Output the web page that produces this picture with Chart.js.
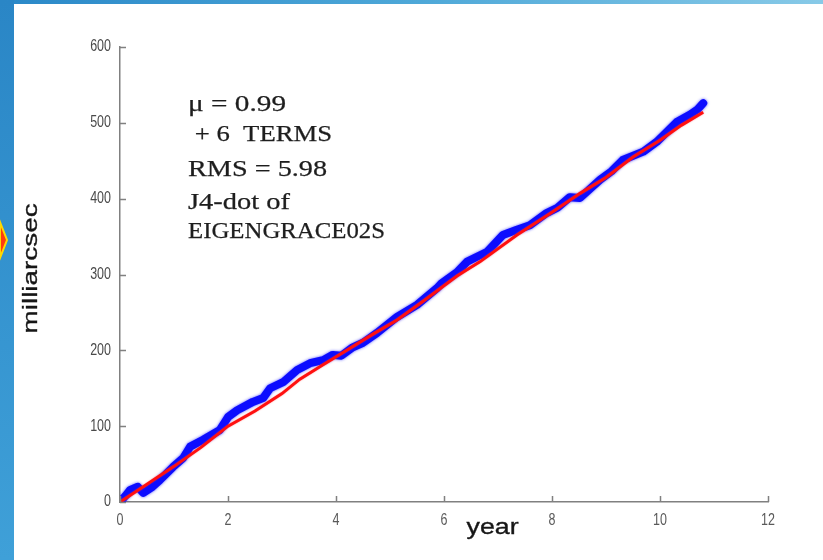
<!DOCTYPE html>
<html>
<head>
<meta charset="utf-8">
<script src="https://cdn.jsdelivr.net/npm/chart.js@4.4.1/dist/chart.umd.min.js"></script>
<style>
  html, body { margin: 0; padding: 0; background: #ffffff; }
  #wrap { width: 823px; height: 560px; position: relative; }
</style>
</head>
<body>
<div id="wrap"><canvas id="c" width="823" height="560"></canvas></div>
<script>
// ---- data ----
const observedYears  = [0, 0.1, 0.19, 0.33, 0.43, 0.6, 0.74, 0.98, 1.17, 1.3, 1.54, 1.85, 2.0, 2.17, 2.46, 2.65, 2.78, 3.02, 3.28, 3.52, 3.76, 3.94, 4.1, 4.31, 4.5, 4.76, 5.13, 5.5, 5.87, 5.95, 6.24, 6.43, 6.8, 7.09, 7.35, 7.59, 7.9, 8.1, 8.33, 8.52, 8.89, 9.1, 9.31, 9.69, 9.94, 10.31, 10.56, 10.7, 10.8];
const observedValues = [0, 8, 16, 20, 12, 20, 29, 46, 58, 73, 82, 95, 112, 121, 132, 137, 150, 158, 174, 183, 187, 194, 193, 204, 210, 223, 244, 260, 282, 288, 303, 317, 330, 352, 359, 365, 381, 388, 402, 401, 425, 436, 451, 462, 475, 501, 511, 518, 526];
const fitYears  = [0, 0.43, 1.0, 1.5, 2.0, 2.5, 3.0, 3.33, 3.76, 4.2, 4.7, 5.13, 5.6, 6.24, 6.67, 7.35, 8.0, 8.52, 9.0, 9.5, 10.0, 10.4, 10.8];
const fitValues = [0, 20, 47, 72, 100, 120, 143, 162, 181, 200, 222, 240, 264, 298, 317, 352, 382, 407, 428, 455, 477, 497, 514];
const xTicks = [0, 2, 4, 6, 8, 10, 12];
const yTicks = [0, 100, 200, 300, 400, 500, 600];
const annotationLines = ["\u03BC = 0.99", " + 6  TERMS", "RMS = 5.98", "J4-dot of", "EIGENGRACE02S"];
const yTitle = "milliarcsec";
const xTitle = "year";

const toPoints = (xs, ys) => xs.map((x, i) => ({ x: x, y: ys[i] }));

function drawStretched(ctx, text, x, y, font, sx, color, align, strokeW) {
  ctx.save();
  ctx.font = font;
  ctx.translate(x, y);
  ctx.scale(sx, 1);
  ctx.fillStyle = color;
  ctx.textBaseline = 'middle';
  ctx.textAlign = align || 'left';
  ctx.fillText(text, 0, 0);
  if (strokeW) {
    ctx.strokeStyle = color;
    ctx.lineWidth = strokeW;
    ctx.strokeText(text, 0, 0);
  }
  ctx.restore();
}
function drawToWidth(ctx, text, x, y, font, targetW, color, align, strokeW) {
  ctx.font = font;
  const w = ctx.measureText(text).width;
  drawStretched(ctx, text, x, y, font, targetW / w, color, align, strokeW);
}

const decorPlugin = {
  id: 'decor',
  beforeDraw(chart) {
    const ctx = chart.ctx;
    const W = chart.width, H = chart.height;
    ctx.save();
    const g = ctx.createLinearGradient(0, 0, W, 120);
    g.addColorStop(0, '#2a88c8');
    g.addColorStop(0.5, '#4ea8d8');
    g.addColorStop(1, '#8acbe8');
    ctx.fillStyle = g;
    ctx.fillRect(0, 0, W, H);
    const g2 = ctx.createLinearGradient(0, 0, 0, H);
    g2.addColorStop(0, '#2a86c6');
    g2.addColorStop(1, '#3fa0d8');
    ctx.fillStyle = g2;
    ctx.fillRect(0, 0, 14, H);
    ctx.fillStyle = '#ffffff';
    ctx.fillRect(14, 4, W - 14, H - 4);
    // chevron tip on the left edge
    ctx.beginPath();
    ctx.moveTo(0, 222);
    ctx.lineTo(7, 240);
    ctx.lineTo(0, 258);
    ctx.closePath();
    ctx.fillStyle = '#ff3a10';
    ctx.fill();
    ctx.strokeStyle = '#ffd800';
    ctx.lineWidth = 2;
    ctx.stroke();
    ctx.restore();
  },
  beforeDatasetDraw(chart, args) {
    const ctx = chart.ctx;
    ctx.save();
    if (args.index === 1) {
      ctx.shadowColor = 'rgba(40,40,255,0.8)';
      ctx.shadowBlur = 3;
    } else {
      ctx.shadowColor = 'rgba(255,60,60,0.6)';
      ctx.shadowBlur = 1.5;
    }
  },
  afterDatasetDraw(chart) {
    chart.ctx.restore();
  },
  afterDraw(chart) {
    const ctx = chart.ctx;
    const xs = chart.scales.x, ys = chart.scales.y;
    const area = chart.chartArea;
    ctx.save();
    // inward tick marks
    ctx.strokeStyle = '#808080';
    ctx.lineWidth = 1.5;
    ctx.beginPath();
    xTicks.forEach(v => {
      const px = Math.round(xs.getPixelForValue(v)) + 0.5;
      ctx.moveTo(px, area.bottom);
      ctx.lineTo(px, area.bottom - 6);
    });
    yTicks.forEach(v => {
      const py = Math.round(ys.getPixelForValue(v)) + 0.5;
      ctx.moveTo(area.left, py);
      ctx.lineTo(area.left + 6, py);
    });
    ctx.stroke();

    // tick labels (narrow, tall digits)
    const tickFont = '16px "Liberation Sans"';
    xTicks.forEach(v => {
      drawStretched(ctx, String(v), xs.getPixelForValue(v), area.bottom + 19, tickFont, 0.78, '#5a5a5a', 'center');
    });
    yTicks.forEach(v => {
      drawStretched(ctx, String(v), area.left - 9, ys.getPixelForValue(v), tickFont, 0.78, '#4a4a4a', 'right');
    });

    // annotation block anchored in data coordinates
    const ax = xs.getPixelForValue(1.26);
    const lineYs = [523, 484, 438, 395, 356];
    const widths = [98, 144, 139, 102, 197];
    annotationLines.forEach((t, i) => {
      drawToWidth(ctx, t, ax, ys.getPixelForValue(lineYs[i]), '23px "Liberation Serif"', widths[i], '#1e1e1e', 'left', 0.25);
    });

    // y axis title (rotated)
    ctx.save();
    ctx.translate(31, ys.getPixelForValue(308));
    ctx.rotate(-Math.PI / 2);
    drawToWidth(ctx, yTitle, 0, 0, '21px "Liberation Sans"', 130, '#161616', 'center', 0.35);
    ctx.restore();

    // x axis title
    drawToWidth(ctx, xTitle, xs.getPixelForValue(6.9), area.bottom + 26, '22px "Liberation Sans"', 52, '#161616', 'center', 0.35);
    ctx.restore();
  }
};

new Chart(document.getElementById('c'), {
  type: 'line',
  data: {
    datasets: [
      {
        label: 'fit',
        data: toPoints(fitYears, fitValues),
        borderColor: '#ff1010',
        borderWidth: 3,
        pointRadius: 0,
        tension: 0,
        order: 0
      },
      {
        label: 'observed',
        data: toPoints(observedYears, observedValues),
        borderColor: '#0c0cff',
        borderWidth: 8,
        borderCapStyle: 'round',
        borderJoinStyle: 'round',
        pointRadius: 0,
        tension: 0,
        order: 1
      }
    ]
  },
  plugins: [decorPlugin],
  options: {
    responsive: false,
    animation: false,
    devicePixelRatio: 1,
    layout: { padding: { left: 0, top: 47, right: 55, bottom: 0 } },
    plugins: { legend: { display: false }, tooltip: { enabled: false } },
    scales: {
      x: {
        type: 'linear', min: 0, max: 12,
        afterFit: s => { s.height = 58; },
        afterBuildTicks: s => { s.ticks = xTicks.map(v => ({ value: v })); },
        grid: { display: false, drawTicks: false },
        border: { display: true, color: '#808080', width: 1.5 },
        ticks: { display: false }
      },
      y: {
        type: 'linear', min: 0, max: 600,
        afterFit: s => { s.width = 120; },
        afterBuildTicks: s => { s.ticks = yTicks.map(v => ({ value: v })); },
        grid: { display: false, drawTicks: false },
        border: { display: true, color: '#808080', width: 1.5 },
        ticks: { display: false }
      }
    }
  }
});
</script>
</body>
</html>
